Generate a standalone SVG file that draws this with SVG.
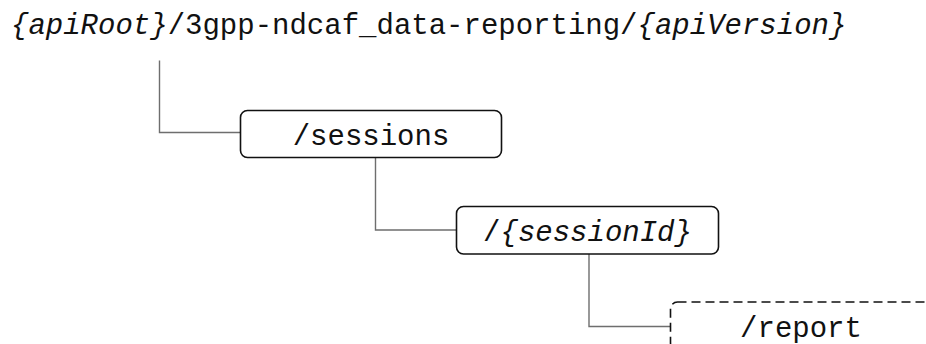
<svg xmlns="http://www.w3.org/2000/svg" width="926" height="344" viewBox="0 0 926 344">
<style>
  .t { font-family: "Liberation Mono", "Courier New", monospace; font-size: 29px; fill: #111; }
  .i { font-style: italic; }
  .box { fill: #fff; stroke: #111; stroke-width: 1.6; }
  .dash { stroke-dasharray: 9 5; }
  .conn { fill: none; stroke: #6e6e6e; stroke-width: 1.4; }
</style>
<rect width="926" height="344" fill="#fff"/>
<g id="connectors">
  <path class="conn" d="M159.5 60.5 V132.5 H240.5"/>
  <path class="conn" d="M375.5 158 V230 H456.5"/>
  <path class="conn" d="M589 254 V326.5 H670.5"/>
</g>
<g id="root">
  <text class="t" x="11" y="34"><tspan class="i">{apiRoot}</tspan>/3gpp-ndcaf_data-reporting/<tspan class="i">{apiVersion}</tspan></text>
</g>
<g id="sessions">
  <rect class="box" x="240.5" y="110.5" width="261" height="47" rx="7"/>
  <text class="t" x="371" y="145" text-anchor="middle">/sessions</text>
</g>
<g id="sessionId">
  <rect class="box" x="456.5" y="206.5" width="262" height="47.5" rx="7"/>
  <text class="t" x="587.5" y="241" text-anchor="middle">/<tspan class="i">{sessionId}</tspan></text>
</g>
<g id="report">
  <rect class="box dash" x="670.5" y="302" width="262" height="48" rx="7"/>
  <text class="t" x="801" y="337" text-anchor="middle">/report</text>
</g>
</svg>
